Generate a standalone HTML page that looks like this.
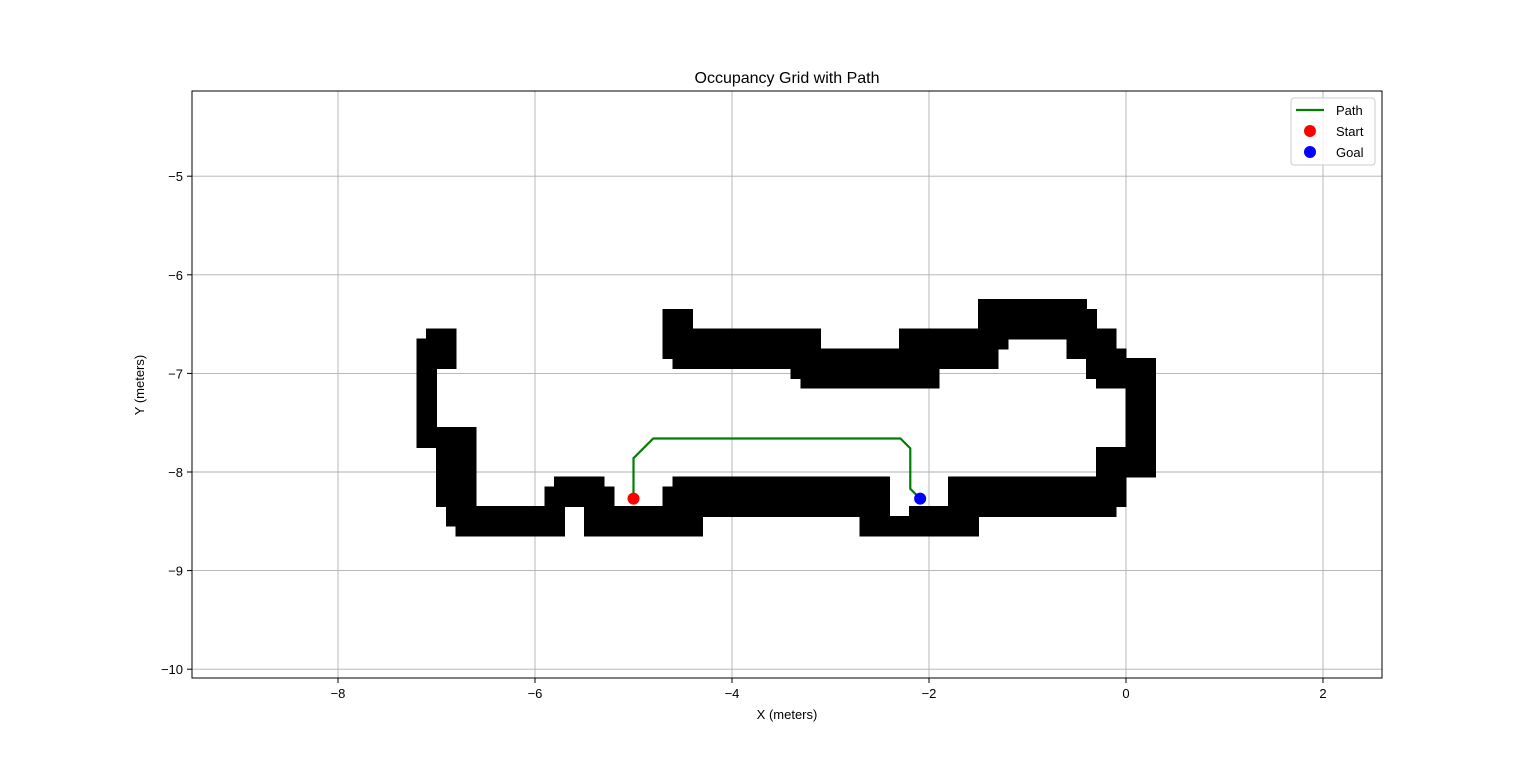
<!DOCTYPE html>
<html><head><meta charset="utf-8"><style>
body{margin:0;background:#fff;font-family:"Liberation Sans","DejaVu Sans",sans-serif}
</style></head><body>
<svg id="c" width="1536" height="762" xmlns="http://www.w3.org/2000/svg" font-family="Liberation Sans, DejaVu Sans, sans-serif">
<rect width="1536" height="762" fill="#fff"/>
<g id="grid"></g><g id="obs" shape-rendering="crispEdges"></g><g id="pathg"></g>
<rect x="192" y="91" width="1190" height="587" fill="none" stroke="#000" stroke-width="1"/>
<g id="ticks"></g>
<text x="787" y="83" text-anchor="middle" font-size="16">Occupancy Grid with Path</text>
<text x="787" y="719" text-anchor="middle" font-size="13">X (meters)</text>
<text x="144" y="385" text-anchor="middle" font-size="13" transform="rotate(-90 144 385)">Y (meters)</text>
<g>
<rect x="1291" y="98" width="84" height="67" rx="3" fill="#fff" stroke="#ccc" fill-opacity="0.8"/>
<g><line x1="1296" y1="110" x2="1324" y2="110" stroke="#008000" stroke-width="2.2"/><text x="1336" y="115" font-size="13">Path</text></g>
<g><circle cx="1310" cy="131" r="6" fill="#f00"/><text x="1336" y="136" font-size="13">Start</text></g>
<g><circle cx="1310" cy="152" r="6" fill="#00f"/><text x="1336" y="157" font-size="13">Goal</text></g>
</g>
</svg>
<script>
const xTicks=[-8,-6,-4,-2,0,2];
const yTicks=[-5,-6,-7,-8,-9,-10];
const obstacles=[
[-7.1,-6.8,-6.95,-6.55],[-7.2,-7.0,-7.75,-6.65],[-7.2,-6.6,-7.75,-7.55],[-7.0,-6.6,-8.35,-7.75],
[-6.9,-5.7,-8.55,-8.35],[-6.8,-5.7,-8.65,-8.55],[-5.8,-5.3,-8.15,-8.05],[-5.9,-5.2,-8.35,-8.15],
[-5.5,-4.3,-8.65,-8.35],[-4.7,-2.4,-8.45,-8.15],[-4.6,-2.4,-8.15,-8.05],[-2.7,-1.5,-8.65,-8.45],
[-2.2,-1.5,-8.45,-8.35],[-1.8,0.0,-8.35,-8.05],[-1.8,-0.1,-8.45,-8.35],[-0.3,0.0,-8.05,-7.75],
[0.0,0.3,-8.05,-6.85],[-4.7,-4.4,-6.55,-6.35],[-4.7,-3.1,-6.85,-6.55],[-4.6,-1.3,-6.95,-6.85],
[-3.4,-1.9,-7.05,-6.95],[-3.3,-1.9,-7.15,-7.05],[-3.1,-1.3,-6.85,-6.75],[-2.3,-1.2,-6.75,-6.55],
[-1.5,-0.4,-6.55,-6.25],[-0.4,-0.3,-6.65,-6.35],[-1.2,-0.6,-6.65,-6.55],[-0.6,-0.1,-6.75,-6.55],
[-0.6,0.0,-6.85,-6.75],[-0.4,0.0,-7.05,-6.85],[-0.3,0.0,-7.15,-7.05]
];
const pathX=[-5.0,-5.0,-4.8,-2.29,-2.19,-2.19,-2.09];
const pathY=[-8.27,-7.86,-7.66,-7.66,-7.76,-8.17,-8.27];
const startPt=[-5.0,-8.27];
const goalPt=[-2.09,-8.27];
const X=v=>1126+v*98.5;
const Y=v=>472-(v+8)*98.6;
const NS='http://www.w3.org/2000/svg';
function mk(t,a,p){const e=document.createElementNS(NS,t);for(const k in a)e.setAttribute(k,a[k]);p.appendChild(e);return e;}
const grid=document.getElementById('grid'),ticks=document.getElementById('ticks');
xTicks.forEach(t=>{const x=X(t);
const g=mk('line',{x1:x,x2:x,y1:91,y2:678,stroke:'#b0b0b0','stroke-width':0.9},grid);


mk('line',{x1:x,x2:x,y1:678,y2:683,stroke:'#000'},ticks);
const l=mk('text',{x:x,y:698,'text-anchor':'middle','font-size':13},ticks);l.textContent=(t<0?'\u2212'+(-t):t);

});
yTicks.forEach(t=>{const y=Y(t);
const g=mk('line',{x1:192,x2:1382,y1:y,y2:y,stroke:'#b0b0b0','stroke-width':0.9},grid);


mk('line',{x1:187,x2:192,y1:y,y2:y,stroke:'#000'},ticks);
const l=mk('text',{x:183,y:y+5,'text-anchor':'end','font-size':13},ticks);l.textContent='\u2212'+(-t);

});
const obs=document.getElementById('obs');
obstacles.forEach(o=>{const r=mk('rect',{x:X(o[0]),y:Y(o[3]),width:X(o[1])-X(o[0]),height:Y(o[2])-Y(o[3]),fill:'#000',stroke:'#000','stroke-width':1},obs);

});
const pg=document.getElementById('pathg');
const pl=mk('polyline',{points:pathX.map((x,i)=>X(x)+','+Y(pathY[i])).join(' '),fill:'none',stroke:'#008000','stroke-width':2.2},pg);


const s=mk('circle',{cx:X(startPt[0]),cy:Y(startPt[1]),r:6,fill:'#f00'},pg);


const g=mk('circle',{cx:X(goalPt[0]),cy:Y(goalPt[1]),r:6,fill:'#00f'},pg);


</script>
</body></html>
